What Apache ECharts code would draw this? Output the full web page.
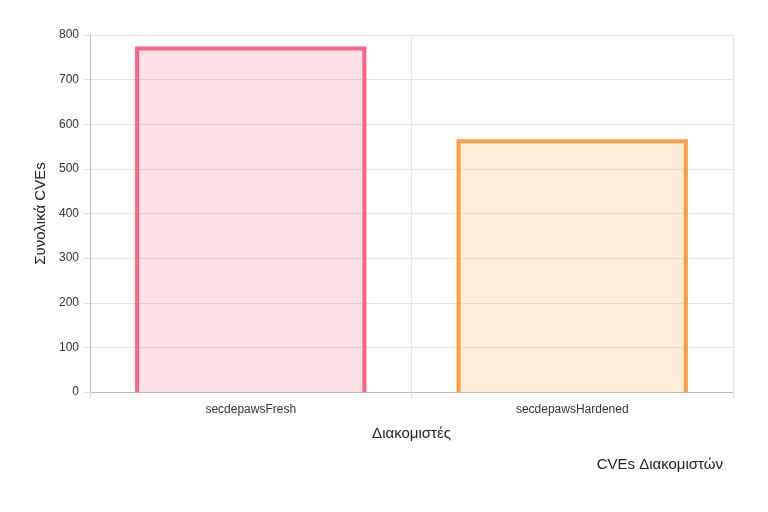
<!DOCTYPE html>
<html>
<head>
<meta charset="utf-8">
<script src="https://cdn.jsdelivr.net/npm/echarts@6/dist/echarts.min.js"></script>
<style>html,body{margin:0;padding:0;background:#fff}#c{width:768px;height:512px}</style>
</head>
<body>
<div id="c"></div>
<script>
const categories = ['secdepawsFresh', 'secdepawsHardened'];
const values = [770, 562];
const yTicks = [0, 100, 200, 300, 400, 500, 600, 700, 800];
const borderColors = ['rgb(255,99,132)', 'rgb(255,159,64)'];
const fillColors = ['rgba(255,99,132,0.2)', 'rgba(255,159,64,0.2)'];

const chart = echarts.init(document.getElementById('c'));
const FONT = 'Liberation Sans, Arial, sans-serif';
chart.setOption({
  animation: false,
  title: {
    text: 'CVEs Διακομιστών',
    right: 40, top: 452,
    textStyle: { fontFamily: FONT, fontSize: 15, fontWeight: 'normal', color: '#222' }
  },
  grid: { left: 90, right: 35, top: 35, bottom: 120, containLabel: false },
  xAxis: {
    type: 'category',
    data: categories,
    name: 'Διακομιστές',
    nameLocation: 'middle',
    nameGap: 34,
    nameTextStyle: { fontFamily: FONT, fontSize: 15, color: '#222' },
    axisLine: { lineStyle: { color: '#bbb' } },
    axisTick: { show: true, length: 6, lineStyle: { color: '#ddd' } },
    axisLabel: { fontFamily: FONT, fontSize: 12, color: '#333', margin: 12 },
    splitLine: { show: true, lineStyle: { color: '#e5e5e5' } }
  },
  yAxis: {
    type: 'value',
    min: yTicks[0], max: yTicks[yTicks.length - 1], interval: 100,
    name: 'Συνολικά CVEs',
    nameLocation: 'middle',
    nameGap: 40,
    nameTextStyle: { fontFamily: FONT, fontSize: 15, color: '#222' },
    axisLine: { show: true, lineStyle: { color: '#bbb' } },
    axisTick: { show: true, length: 6, lineStyle: { color: '#ddd' } },
    axisLabel: { fontFamily: FONT, fontSize: 12, color: '#333', margin: 11 },
    splitLine: { show: true, lineStyle: { color: '#e5e5e5' } }
  },
  series: [{
    type: 'custom',
    data: values.map((v, i) => [i, v]),
    renderItem: function (params, api) {
      const i = api.value(0);
      const top = api.coord([i, api.value(1)]);
      const base = api.coord([i, 0]);
      const bw = api.size([1, 0])[0] * 0.707;
      const x0 = top[0] - bw / 2, x1 = top[0] + bw / 2;
      return {
        type: 'group',
        children: [
          { type: 'rect', shape: { x: x0, y: top[1], width: bw, height: base[1] - top[1] },
            style: { fill: fillColors[i] } },
          { type: 'polyline', shape: { points: [[x0, base[1]], [x0, top[1]], [x1, top[1]], [x1, base[1]]] },
            style: { stroke: borderColors[i], lineWidth: 4, fill: null, lineJoin: 'miter' } }
        ]
      };
    }
  }]
});
</script>
</body>
</html>
